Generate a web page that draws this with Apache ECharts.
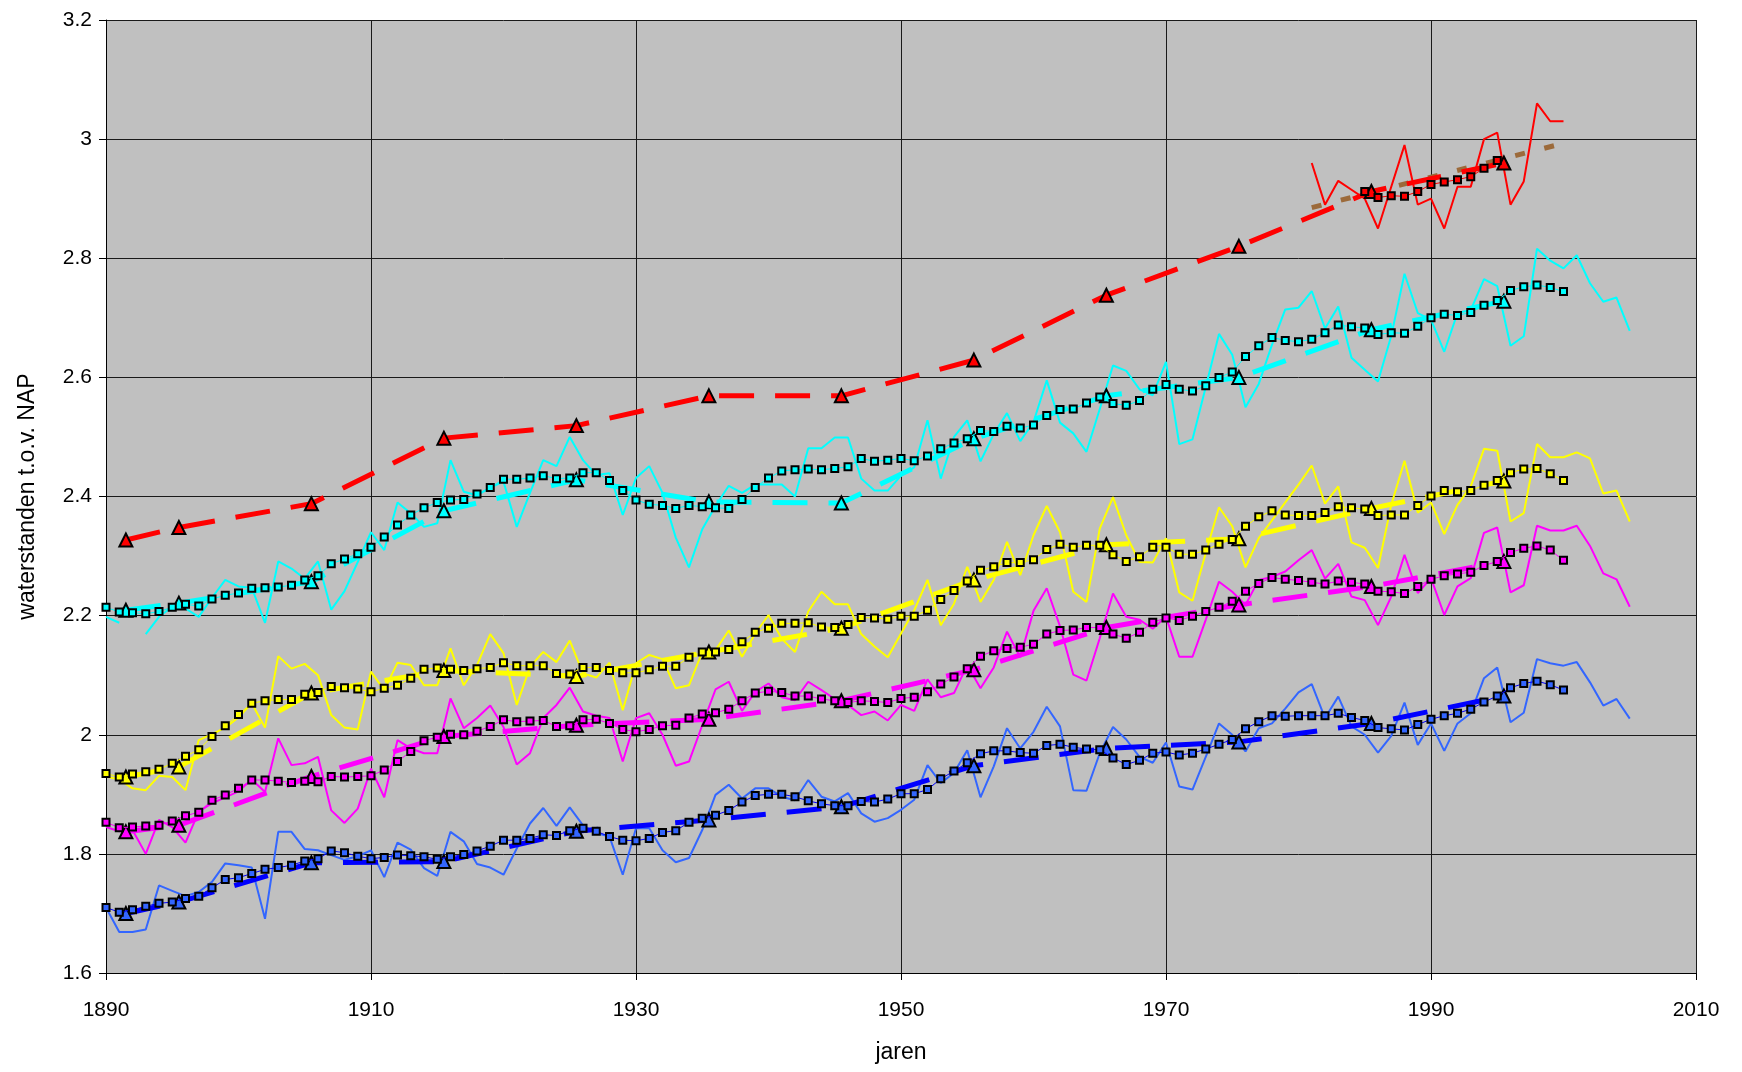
<!DOCTYPE html>
<html><head><meta charset="utf-8">
<script src="https://cdn.jsdelivr.net/npm/echarts@6/dist/echarts.min.js"></script>
<style>html,body{margin:0;padding:0;background:#fff;}#chart{width:1742px;height:1072px;}</style>
</head><body><div id="chart"></div>
<script>
// ---------- DATA ----------
const annualStartYear = 1890;   // yearly values 1890-2005
const averageStartYear = 1890;  // moving averages 1890-2000
const redAnnualStartYear = 1981;
const redAverageStartYear = 1985;
const decadeYears = [1891.5, 1895.5, 1905.5, 1915.5, 1925.5, 1935.5, 1945.5, 1955.5, 1965.5, 1975.5, 1985.5, 1995.5];

const redDecade     = [2.327, 2.348, 2.388, 2.498, 2.519, 2.569, 2.569, 2.629, 2.738, 2.820, 2.912, 2.960];
const cyanDecade    = [2.209, 2.221, 2.257, 2.376, 2.428, 2.391, 2.389, 2.497, 2.569, 2.600, 2.680, 2.728];
const yellowDecade  = [1.929, 1.946, 2.070, 2.108, 2.098, 2.139, 2.179, 2.260, 2.319, 2.329, 2.380, 2.426];
const magentaDecade = [1.837, 1.848, 1.930, 1.997, 2.016, 2.026, 2.057, 2.109, 2.180, 2.218, 2.249, 2.291];
const blueDecade    = [1.700, 1.719, 1.785, 1.787, 1.838, 1.857, 1.879, 1.948, 1.977, 1.988, 2.019, 2.065];

const redAnnual = [2.96, 2.89, 2.93, 2.915, 2.90, 2.85, 2.92, 2.99, 2.89, 2.90, 2.85, 2.92, 2.92, 3.00, 3.011, 2.89, 2.929, 3.06, 3.03, 3.03];
const redAverage = [2.912, 2.902, 2.905, 2.904, 2.912, 2.924, 2.928, 2.932, 2.937, 2.951, 2.964];
const trendYears = [1981, 2000];
const trendValues = [2.885, 2.993];

const cyanAnnual = [2.198, 2.188, null, 2.169, 2.198, 2.215, 2.212, 2.198, 2.230, 2.260,
  2.249, 2.247, 2.188, 2.291, 2.279, 2.262, 2.291, 2.210, 2.241, 2.290,
  2.340, 2.310, 2.390, 2.372, 2.349, 2.355, 2.461, 2.408, 2.402, 2.415,
  2.425, 2.349, 2.406, 2.461, 2.451, 2.500, 2.461, 2.436, 2.439, 2.369,
  2.431, 2.451, 2.406, 2.331, 2.281, 2.345, 2.384, 2.418, 2.406, 2.420,
  2.420, 2.420, 2.400, 2.481, 2.481, 2.499, 2.499, 2.430, 2.410, 2.410,
  2.435, 2.449, 2.528, 2.430, 2.500, 2.528, 2.459, 2.505, 2.540, 2.493,
  2.525, 2.595, 2.524, 2.506, 2.475, 2.547, 2.620, 2.611, 2.580, 2.570,
  2.626, 2.488, 2.496, 2.584, 2.673, 2.638, 2.550, 2.589, 2.655, 2.714,
  2.717, 2.745, 2.682, 2.719, 2.633, 2.613, 2.593, 2.670, 2.774, 2.708,
  2.697, 2.643, 2.708, 2.713, 2.765, 2.753, 2.653, 2.669, 2.816, 2.796,
  2.783, 2.805, 2.758, 2.727, 2.734, 2.678];
const cyanAverage = [2.214, 2.206, 2.205, 2.203, 2.207, 2.214, 2.219, 2.216, 2.228, 2.234,
  2.238, 2.246, 2.247, 2.248, 2.251, 2.260, 2.267, 2.287, 2.295, 2.304,
  2.315, 2.332, 2.352, 2.369, 2.381, 2.390, 2.394, 2.395, 2.404, 2.415,
  2.429, 2.429, 2.431, 2.435, 2.430, 2.431, 2.440, 2.440, 2.427, 2.410,
  2.394, 2.387, 2.385, 2.380, 2.385, 2.383, 2.381, 2.380, 2.395, 2.415,
  2.431, 2.443, 2.445, 2.446, 2.445, 2.447, 2.450, 2.464, 2.459, 2.461,
  2.464, 2.460, 2.468, 2.480, 2.490, 2.497, 2.511, 2.509, 2.518, 2.515,
  2.520, 2.536, 2.546, 2.547, 2.557, 2.567, 2.556, 2.553, 2.561, 2.580,
  2.588, 2.580, 2.577, 2.586, 2.600, 2.609, 2.635, 2.653, 2.667, 2.662,
  2.660, 2.664, 2.675, 2.688, 2.685, 2.683, 2.672, 2.675, 2.674, 2.686,
  2.700, 2.706, 2.704, 2.709, 2.721, 2.729, 2.746, 2.752, 2.755, 2.751, 2.744];

const yellowAnnual = [1.930, 1.925, 1.910, 1.907, 1.931, 1.929, 1.907, 1.991, 2.001, 2.012,
  2.029, 2.053, 2.012, 2.132, 2.111, 2.119, 2.100, 2.033, 2.012, 2.009,
  2.106, 2.075, 2.121, 2.117, 2.083, 2.083, 2.145, 2.083, 2.117, 2.169,
  2.137, 2.050, 2.114, 2.139, 2.122, 2.158, 2.103, 2.096, 2.121, 2.041,
  2.120, 2.134, 2.127, 2.078, 2.083, 2.139, 2.142, 2.175, 2.131, 2.170,
  2.201, 2.161, 2.139, 2.207, 2.240, 2.219, 2.219, 2.169, 2.148, 2.130,
  2.170, 2.209, 2.260, 2.184, 2.220, 2.282, 2.223, 2.260, 2.324, 2.268,
  2.335, 2.384, 2.340, 2.240, 2.223, 2.346, 2.399, 2.335, 2.290, 2.289,
  2.330, 2.239, 2.225, 2.305, 2.382, 2.350, 2.281, 2.330, 2.360, 2.390,
  2.420, 2.452, 2.388, 2.417, 2.323, 2.314, 2.280, 2.386, 2.460, 2.373,
  2.390, 2.337, 2.386, 2.417, 2.480, 2.477, 2.358, 2.372, 2.488, 2.466,
  2.466, 2.474, 2.464, 2.405, 2.410, 2.358];
const yellowAverage = [1.935, 1.929, 1.934, 1.938, 1.942, 1.952, 1.964, 1.975, 1.997, 2.015,
  2.034, 2.053, 2.057, 2.059, 2.059, 2.068, 2.071, 2.081, 2.079, 2.077,
  2.072, 2.078, 2.083, 2.095, 2.110, 2.112, 2.110, 2.108, 2.111, 2.113,
  2.121, 2.116, 2.116, 2.116, 2.103, 2.102, 2.113, 2.113, 2.108, 2.104,
  2.104, 2.109, 2.115, 2.115, 2.130, 2.139, 2.139, 2.143, 2.156, 2.172,
  2.179, 2.187, 2.187, 2.188, 2.181, 2.180, 2.185, 2.197, 2.196, 2.194,
  2.199, 2.199, 2.209, 2.227, 2.242, 2.258, 2.276, 2.282, 2.289, 2.289,
  2.294, 2.311, 2.320, 2.315, 2.318, 2.318, 2.302, 2.291, 2.299, 2.315,
  2.315, 2.303, 2.303, 2.310, 2.320, 2.328, 2.350, 2.366, 2.376, 2.369,
  2.368, 2.368, 2.373, 2.383, 2.381, 2.379, 2.368, 2.369, 2.369, 2.385,
  2.401, 2.410, 2.408, 2.410, 2.419, 2.427, 2.440, 2.446, 2.447, 2.438, 2.427];

const magentaAnnual = [1.845, 1.838, 1.840, 1.800, 1.857, 1.845, 1.819, 1.871, 1.885, 1.895,
  1.905, 1.925, 1.904, 1.994, 1.949, 1.952, 1.963, 1.873, 1.852, 1.876,
  1.943, 1.895, 1.991, 1.977, 1.969, 1.969, 2.061, 2.011, 2.028, 2.049,
  2.013, 1.950, 1.969, 2.028, 2.050, 2.079, 2.039, 2.032, 2.028, 1.955,
  2.028, 2.036, 2.000, 1.948, 1.955, 2.016, 2.076, 2.089, 2.040, 2.072,
  2.086, 2.063, 2.058, 2.089, 2.075, 2.060, 2.050, 2.033, 2.039, 2.024,
  2.050, 2.040, 2.093, 2.063, 2.070, 2.117, 2.078, 2.113, 2.173, 2.130,
  2.208, 2.246, 2.182, 2.101, 2.091, 2.162, 2.237, 2.198, 2.193, 2.178,
  2.198, 2.131, 2.131, 2.193, 2.257, 2.240, 2.218, 2.260, 2.265, 2.274,
  2.293, 2.310, 2.262, 2.287, 2.232, 2.226, 2.184, 2.232, 2.302, 2.238,
  2.263, 2.201, 2.249, 2.263, 2.339, 2.348, 2.239, 2.251, 2.351, 2.343,
  2.343, 2.351, 2.317, 2.271, 2.261, 2.215];
const magentaAverage = [1.853, 1.844, 1.845, 1.847, 1.848, 1.855, 1.864, 1.870, 1.890, 1.899,
  1.910, 1.924, 1.924, 1.922, 1.920, 1.922, 1.921, 1.930, 1.929, 1.930,
  1.931, 1.941, 1.955, 1.972, 1.990, 1.996, 2.001, 2.000, 2.006, 2.014,
  2.025, 2.022, 2.023, 2.024, 2.014, 2.015, 2.025, 2.026, 2.019, 2.009,
  2.005, 2.009, 2.015, 2.016, 2.028, 2.035, 2.037, 2.043, 2.057, 2.070,
  2.073, 2.071, 2.065, 2.065, 2.060, 2.057, 2.054, 2.057, 2.056, 2.054,
  2.061, 2.063, 2.072, 2.085, 2.097, 2.111, 2.132, 2.141, 2.145, 2.147,
  2.152, 2.169, 2.175, 2.176, 2.180, 2.180, 2.169, 2.162, 2.172, 2.189,
  2.196, 2.192, 2.199, 2.207, 2.214, 2.224, 2.241, 2.254, 2.264, 2.261,
  2.259, 2.256, 2.253, 2.258, 2.256, 2.253, 2.241, 2.240, 2.237, 2.249,
  2.261, 2.267, 2.270, 2.273, 2.284, 2.291, 2.306, 2.313, 2.317, 2.310, 2.293];

const blueAnnual = [1.710, 1.669, 1.669, 1.673, 1.747, 1.738, 1.729, 1.736, 1.753, 1.784,
  1.781, 1.777, 1.691, 1.837, 1.837, 1.808, 1.806, 1.798, 1.790, 1.796,
  1.806, 1.761, 1.819, 1.807, 1.776, 1.763, 1.837, 1.821, 1.783, 1.777,
  1.765, 1.809, 1.851, 1.877, 1.847, 1.878, 1.848, 1.835, 1.829, 1.765,
  1.843, 1.843, 1.806, 1.786, 1.793, 1.840, 1.899, 1.916, 1.893, 1.910,
  1.910, 1.896, 1.890, 1.924, 1.896, 1.888, 1.902, 1.868, 1.854, 1.860,
  1.874, 1.891, 1.949, 1.919, 1.936, 1.974, 1.895, 1.947, 2.011, 1.977,
  2.005, 2.047, 2.014, 1.907, 1.906, 1.969, 2.013, 1.992, 1.963, 1.953,
  1.987, 1.913, 1.908, 1.963, 2.019, 2.000, 1.972, 2.011, 2.019, 2.044,
  2.071, 2.085, 2.028, 2.064, 2.014, 2.000, 1.970, 1.998, 2.054, 1.983,
  2.019, 1.973, 2.019, 2.036, 2.095, 2.113, 2.021, 2.037, 2.127, 2.120,
  2.116, 2.122, 2.088, 2.049, 2.060, 2.027];
const blueAverage = [1.710, 1.702, 1.706, 1.712, 1.717, 1.719, 1.725, 1.729, 1.743, 1.757,
  1.760, 1.767, 1.774, 1.777, 1.781, 1.788, 1.792, 1.805, 1.802, 1.796,
  1.792, 1.794, 1.798, 1.797, 1.795, 1.791, 1.795, 1.799, 1.805, 1.813,
  1.823, 1.823, 1.826, 1.832, 1.831, 1.839, 1.843, 1.838, 1.829, 1.823,
  1.822, 1.826, 1.836, 1.839, 1.853, 1.860, 1.865, 1.873, 1.887, 1.898,
  1.900, 1.900, 1.896, 1.889, 1.884, 1.881, 1.881, 1.888, 1.887, 1.892,
  1.901, 1.901, 1.908, 1.926, 1.939, 1.953, 1.968, 1.973, 1.973, 1.970,
  1.969, 1.982, 1.984, 1.979, 1.976, 1.975, 1.961, 1.950, 1.957, 1.969,
  1.971, 1.966, 1.969, 1.976, 1.984, 1.992, 2.010, 2.022, 2.032, 2.031,
  2.032, 2.032, 2.032, 2.036, 2.029, 2.024, 2.012, 2.010, 2.008, 2.017,
  2.026, 2.032, 2.036, 2.043, 2.055, 2.065, 2.079, 2.086, 2.090, 2.084, 2.075];

const xTicks = {min: 1890, max: 2010, interval: 20};
const yTicks = {min: 1.6, max: 3.2, interval: 0.2};

// ---------- BUILD ----------
function fromStart(start, arr) { return arr.map((v, i) => [start + i, v]); }
function zipXY(xs, ys) { return xs.map((x, i) => [x, ys[i]]); }

const FONT = 'Liberation Sans, Arial, sans-serif';

function annualSeries(name, color, data, start) {
  return { name, type: 'line', data: fromStart(start, data), symbol: 'none', connectNulls: false,
    lineStyle: { color, width: 2 }, z: 2, silent: true };
}
function decadeSeries(name, lineColor, fill, data) {
  return { name, type: 'line', data: zipXY(decadeYears, data), symbol: 'triangle', symbolSize: 13,
    lineStyle: { color: lineColor, width: 5, type: [35, 21] },
    itemStyle: { color: fill, borderColor: '#000', borderWidth: 2 }, z: 3, silent: true };
}
function averageSeries(name, lineColor, fill, data, start) {
  return { name, type: 'line', data: fromStart(start, data), symbol: 'rect', symbolSize: 7,
    lineStyle: { color: lineColor, width: 1 },
    itemStyle: { color: fill, borderColor: '#000', borderWidth: 2 }, z: 4, silent: true };
}

const series = [
  annualSeries('cyan jaar', '#00FFFF', cyanAnnual, annualStartYear),
  annualSeries('geel jaar', '#FFFF00', yellowAnnual, annualStartYear),
  annualSeries('magenta jaar', '#FF00FF', magentaAnnual, annualStartYear),
  annualSeries('blauw jaar', '#3366FF', blueAnnual, annualStartYear),
  annualSeries('rood jaar', '#FF0000', redAnnual, redAnnualStartYear),
  { name: 'trend', type: 'line', data: zipXY(trendYears, trendValues), symbol: 'none',
    lineStyle: { color: '#9C6A3A', width: 5, type: [10, 20] }, z: 3, silent: true },
  decadeSeries('rood decade', '#FF0000', '#FF0000', redDecade),
  decadeSeries('cyan decade', '#00FFFF', '#00FFFF', cyanDecade),
  decadeSeries('geel decade', '#FFFF00', '#FFFF00', yellowDecade),
  decadeSeries('magenta decade', '#FF00FF', '#FF00FF', magentaDecade),
  decadeSeries('blauw decade', '#0000FF', '#3366FF', blueDecade),
  averageSeries('cyan gem', '#00FFFF', '#00FFFF', cyanAverage, averageStartYear),
  averageSeries('geel gem', '#FFFF00', '#FFFF00', yellowAverage, averageStartYear),
  averageSeries('magenta gem', '#FF00FF', '#FF00FF', magentaAverage, averageStartYear),
  averageSeries('blauw gem', '#0000FF', '#3366FF', blueAverage, averageStartYear),
  averageSeries('rood gem', '#FF0000', '#FF0000', redAverage, redAverageStartYear)
];

const chart = echarts.init(document.getElementById('chart'), null, { renderer: 'canvas' });
chart.setOption({
  animation: false,
  backgroundColor: '#FFFFFF',
  grid: { left: 106, right: 46, top: 20, bottom: 99, show: true, backgroundColor: '#C0C0C0',
          borderWidth: 0, containLabel: false, outerBoundsMode: 'none' },
  xAxis: {
    type: 'value', min: xTicks.min, max: xTicks.max, interval: xTicks.interval,
    name: 'jaren', nameLocation: 'middle', nameGap: 68,
    nameTextStyle: { fontFamily: FONT, fontSize: 23, color: '#000' },
    axisLine: { show: true, onZero: false, lineStyle: { color: '#000', width: 1 } },
    axisTick: { show: true, inside: false, length: 7, lineStyle: { color: '#000' } },
    axisLabel: { fontFamily: FONT, fontSize: 21, color: '#000', margin: 27,
                 formatter: v => String(v) },
    splitLine: { show: true, lineStyle: { color: '#1a1a1a', width: 1 } }
  },
  yAxis: {
    type: 'value', min: yTicks.min, max: yTicks.max, interval: yTicks.interval,
    name: 'waterstanden t.o.v. NAP', nameLocation: 'middle', nameGap: 67, nameRotate: 90,
    nameTextStyle: { fontFamily: FONT, fontSize: 23, color: '#000' },
    axisLine: { show: true, onZero: false, lineStyle: { color: '#000', width: 1 } },
    axisTick: { show: true, inside: false, length: 7, lineStyle: { color: '#000' } },
    axisLabel: { fontFamily: FONT, fontSize: 21, color: '#000', margin: 14 },
    splitLine: { show: true, lineStyle: { color: '#1a1a1a', width: 1 } }
  },
  series
});
</script></body></html>
